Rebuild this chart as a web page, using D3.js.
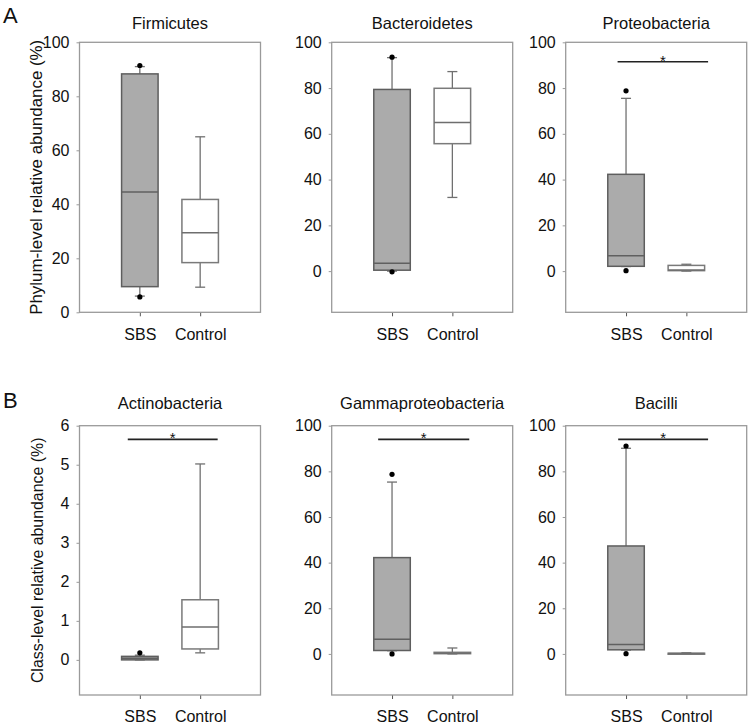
<!DOCTYPE html>
<html>
<head>
<meta charset="utf-8">
<script src="https://cdn.jsdelivr.net/npm/d3@7"></script>
<style>
  html, body { margin: 0; padding: 0; background: #fff; }
  svg { display: block; font-family: "Liberation Sans", Arial, sans-serif; }
</style>
</head>
<body>
<svg id="chart" width="750" height="726"></svg>
<script>
// ---------------- data ----------------
const panelTitles = ["Firmicutes", "Bacteroidetes", "Proteobacteria", "Actinobacteria", "Gammaproteobacteria", "Bacilli"];
const groups = ["SBS", "Control"];
const rowLabels = ["A", "B"];
const rowYTitles = ["Phylum-level relative abundance (%)", "Class-level relative abundance (%)"];

// y-axis ranges and ticks per panel
const yMin = [0, -18, -18, -0.9, -18, -18];
const yMax = [100, 100, 100, 6, 100, 100];
const yTicks = [
  [0, 20, 40, 60, 80, 100],
  [0, 20, 40, 60, 80, 100],
  [0, 20, 40, 60, 80, 100],
  [0, 1, 2, 3, 4, 5, 6],
  [0, 20, 40, 60, 80, 100],
  [0, 20, 40, 60, 80, 100]
];

// box statistics per panel: [SBS, Control]
const whiskerLow  = [[6.0, 9.3], [0.0, 32.2], [2.0, 0.0], [0.0, 0.18], [1.4, 0.0], [1.7, 0.0]];
const q1          = [[9.5, 18.4], [0.4, 55.7], [2.1, 0.2], [0.0, 0.28], [1.5, 0.1], [1.8, 0.05]];
const medians     = [[44.6, 29.5], [3.4, 65.0], [6.7, 0.5], [0.04, 0.84], [6.4, 0.3], [4.1, 0.15]];
const q3          = [[88.3, 41.8], [79.4, 79.9], [42.3, 2.5], [0.09, 1.54], [42.2, 0.7], [47.3, 0.3]];
const whiskerHigh = [[91.0, 65.0], [93.3, 87.2], [75.5, 3.0], [0.12, 5.02], [75.3, 2.6], [90.1, 0.5]];
// outlier points (SBS only)
const outliersSBS = [[91.4, 5.7], [93.5, -0.3], [78.8, 0.2], [0.18], [78.7, 0.0], [91.1, 0.1]];

// significance bars: value level and extent along the category axis (category index 1 = SBS, 2 = Control)
const sigLevel = [null, null, 91.5, 5.65, 94, 94];
const sigFrom  = [null, null, 0.86, 0.80, 0.77, 0.87];
const sigTo    = [null, null, 2.36, 2.29, 2.28, 2.36];

// ---------------- layout ----------------
const svg = d3.select("#chart");
const colLeft = [79.5, 331.7, 565.7];
const panelW = 181;
const rowTop = [42.3, 425.7];
const rowBottom = [312.3, 695];

const frameColor = "#9a9a9a";
const sbsFill = "#ababab";
const lineColor = "#707070";

panelTitles.forEach((title, i) => {
  const row = Math.floor(i / 3), col = i % 3;
  const x0 = colLeft[col], top = rowTop[row], bottom = rowBottom[row];
  const g = svg.append("g");

  const x = d3.scaleLinear().domain([0, 3]).range([x0, x0 + panelW]);
  const y = d3.scaleLinear().domain([yMin[i], yMax[i]]).range([bottom, top]);

  // title
  g.append("text")
    .attr("x", x0 + panelW / 2)
    .attr("y", row === 0 ? 29 : 409)
    .attr("text-anchor", "middle")
    .attr("font-size", "16.5px")
    .attr("fill", "#111")
    .text(title);

  // y axis
  const ya = d3.axisLeft(y).tickValues(yTicks[i]).tickSize(3).tickPadding(7).tickFormat(d3.format("d"));
  const yg = g.append("g").attr("transform", `translate(${x0},0)`).call(ya);
  yg.select(".domain").remove();
  yg.selectAll(".tick line").attr("stroke", frameColor);
  yg.selectAll(".tick text").attr("font-size", "16px").attr("fill", "#111")
    .attr("font-family", "Liberation Sans, Arial, sans-serif");

  // x axis
  const xa = d3.axisBottom(x).tickValues([1, 2]).tickSize(4).tickPadding(12)
    .tickFormat(d => groups[d - 1]);
  const xg = g.append("g").attr("transform", `translate(0,${bottom})`).call(xa);
  xg.select(".domain").remove();
  xg.selectAll(".tick line").attr("stroke", "#555");
  xg.selectAll(".tick text").attr("font-size", "16px").attr("fill", "#111")
    .attr("font-family", "Liberation Sans, Arial, sans-serif");

  // frame
  g.append("rect")
    .attr("x", x0).attr("y", top)
    .attr("width", panelW).attr("height", bottom - top)
    .attr("fill", "none").attr("stroke", frameColor).attr("stroke-width", 1.3);

  const boxW = 36.5, capW = 10;
  groups.forEach((grp, k) => {
    const cx = x(k + 1);
    const isSBS = k === 0;
    const stroke = isSBS ? "#5e5e5e" : "#7a7a7a";
    // whiskers
    g.append("line").attr("x1", cx).attr("x2", cx)
      .attr("y1", y(q3[i][k])).attr("y2", y(whiskerHigh[i][k]))
      .attr("stroke", lineColor).attr("stroke-width", 1.3);
    g.append("line").attr("x1", cx).attr("x2", cx)
      .attr("y1", y(q1[i][k])).attr("y2", y(whiskerLow[i][k]))
      .attr("stroke", lineColor).attr("stroke-width", 1.3);
    [whiskerHigh[i][k], whiskerLow[i][k]].forEach(v => {
      g.append("line").attr("x1", cx - capW / 2).attr("x2", cx + capW / 2)
        .attr("y1", y(v)).attr("y2", y(v))
        .attr("stroke", lineColor).attr("stroke-width", 1.3);
    });
    // box
    g.append("rect")
      .attr("x", cx - boxW / 2)
      .attr("y", y(q3[i][k]))
      .attr("width", boxW)
      .attr("height", Math.max(1, y(q1[i][k]) - y(q3[i][k])))
      .attr("fill", isSBS ? sbsFill : "#fff")
      .attr("stroke", stroke).attr("stroke-width", 1.5);
    // median
    g.append("line")
      .attr("x1", cx - boxW / 2).attr("x2", cx + boxW / 2)
      .attr("y1", y(medians[i][k])).attr("y2", y(medians[i][k]))
      .attr("stroke", isSBS ? "#606060" : "#6e6e6e").attr("stroke-width", 1.5);
  });

  // outliers
  g.selectAll("circle.out").data(outliersSBS[i]).enter().append("circle")
    .attr("class", "out")
    .attr("cx", x(1)).attr("cy", d => y(d)).attr("r", 2.6)
    .attr("fill", "#000");

  // significance bar
  if (sigLevel[i] !== null) {
    const sy = y(sigLevel[i]);
    g.append("line")
      .attr("x1", x(sigFrom[i])).attr("x2", x(sigTo[i]))
      .attr("y1", sy).attr("y2", sy)
      .attr("stroke", "#222").attr("stroke-width", 1.6);
    g.append("text")
      .attr("x", x((sigFrom[i] + sigTo[i]) / 2))
      .attr("y", sy + 4)
      .attr("text-anchor", "middle")
      .attr("font-size", "15px")
      .attr("fill", "#111")
      .text("*");
  }
});

// row labels and y titles
rowLabels.forEach((lab, r) => {
  svg.append("text")
    .attr("x", 3).attr("y", r === 0 ? 23 : 408)
    .attr("font-size", "22px").attr("fill", "#111")
    .text(lab);
  const cy = (rowTop[r] + rowBottom[r]) / 2;
  const bx = r === 0 ? 41.5 : 43;
  svg.append("text")
    .attr("transform", `translate(${bx},${cy}) rotate(-90)`)
    .attr("text-anchor", "middle")
    .attr("font-size", r === 0 ? "16.9px" : "15.9px")
    .attr("fill", "#111")
    .text(rowYTitles[r]);
});
</script>
</body>
</html>
